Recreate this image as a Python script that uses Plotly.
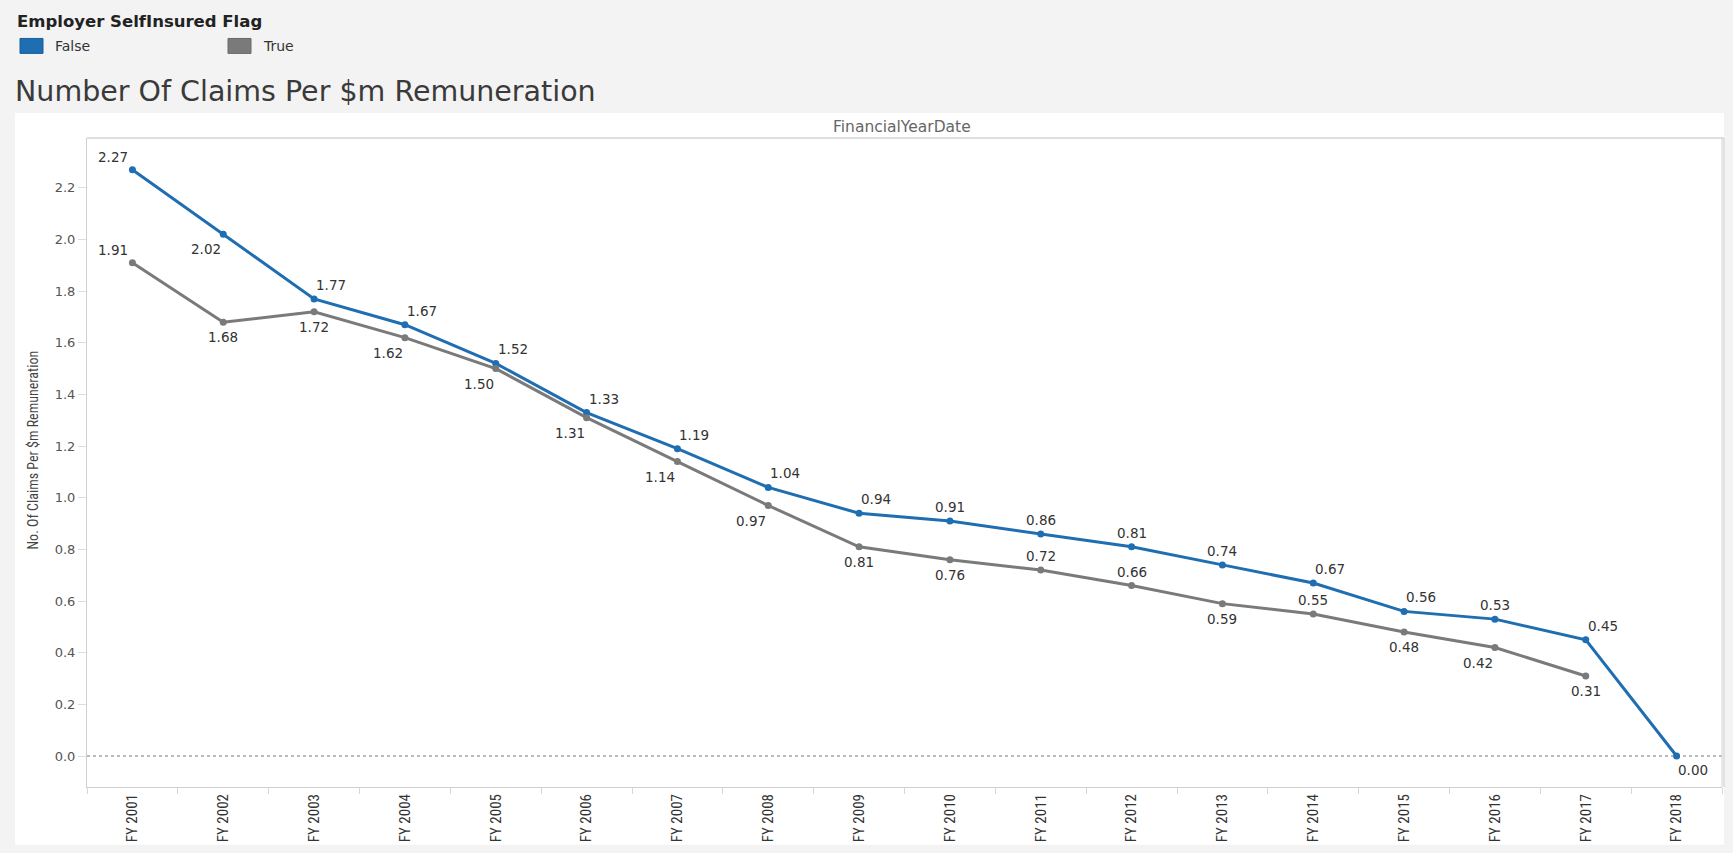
import plotly.graph_objects as go

# ---------------- data ----------------
years = ["FY 2001", "FY 2002", "FY 2003", "FY 2004", "FY 2005", "FY 2006", "FY 2007",
         "FY 2008", "FY 2009", "FY 2010", "FY 2011", "FY 2012", "FY 2013", "FY 2014",
         "FY 2015", "FY 2016", "FY 2017", "FY 2018"]
false_vals = [2.27, 2.02, 1.77, 1.67, 1.52, 1.33, 1.19, 1.04, 0.94, 0.91, 0.86, 0.81,
              0.74, 0.67, 0.56, 0.53, 0.45, 0.00]
true_vals = [1.91, 1.68, 1.72, 1.62, 1.50, 1.31, 1.14, 0.97, 0.81, 0.76, 0.72, 0.66,
             0.59, 0.55, 0.48, 0.42, 0.31, None]
y_ticks = [0.0, 0.2, 0.4, 0.6, 0.8, 1.0, 1.2, 1.4, 1.6, 1.8, 2.0, 2.2]

# ---------------- label placement (style) ----------------
false_pos = ["tl", "bl", "tr", "tr", "tr", "tr", "tr", "tr", "tr", "t", "t", "t", "t",
             "tr", "tr", "t", "tr", "br"]
true_pos = ["tl", "b", "b", "bl", "bl", "bl", "bl", "bl", "b", "b", "t", "t", "b", "t",
            "b", "bl", "b", None]
OFFS = {"t": (0, 14), "b": (0, -15), "tr": (17, 14), "tl": (-19, 13),
        "bl": (-17, -15), "br": (16, -14)}

BLUE = "#1f6eb1"
GRAY = "#7a7a7a"
FONT = "DejaVu Sans"
NARROW = "Liberation Sans Narrow, Roboto Condensed, Arial Narrow, sans-serif"

fig = go.Figure()
for name, vals, col in [("False", false_vals, BLUE), ("True", true_vals, GRAY)]:
    fig.add_trace(go.Scatter(
        x=years, y=vals, mode="lines+markers", name=name,
        line=dict(color=col, width=3), marker=dict(color=col, size=7),
        showlegend=False, connectgaps=False))

annotations = []
for vals, pos in [(false_vals, false_pos), (true_vals, true_pos)]:
    for yr, v, p in zip(years, vals, pos):
        if v is None or p is None:
            continue
        dx, dy = OFFS[p]
        annotations.append(dict(
            x=yr, y=v, xref="x", yref="y", text=f"{v:.2f}", showarrow=False,
            xshift=dx, yshift=dy, font=dict(family=FONT, size=13.5, color="#333333")))

# page-level geometry (pixels -> paper)
W, H = 1733, 853
L, R, T, B = 87, 11, 138, 63
PW, PH = W - L - R, H - T - B
def px(xp):
    return (xp - L) / PW
def py(yp):
    return (H - B - yp) / PH

# legend + titles
annotations += [
    dict(x=px(15), y=py(21), xref="paper", yref="paper", xanchor="left", yanchor="middle",
         text="<b>Employer SelfInsured Flag</b>", showarrow=False,
         font=dict(family=FONT, size=16.5, color="#222222")),
    dict(x=px(53), y=py(46), xref="paper", yref="paper", xanchor="left", yanchor="middle",
         text="False", showarrow=False, font=dict(family=FONT, size=14, color="#333333")),
    dict(x=px(261), y=py(46), xref="paper", yref="paper", xanchor="left", yanchor="middle",
         text="True", showarrow=False, font=dict(family=FONT, size=14, color="#333333")),
    dict(x=px(13), y=py(91), xref="paper", yref="paper", xanchor="left", yanchor="middle",
         text="Number Of Claims Per $m Remuneration", showarrow=False,
         font=dict(family=FONT, size=28.5, color="#3a3a3a")),
    dict(x=px(902), y=py(127), xref="paper", yref="paper", xanchor="center", yanchor="middle",
         text="FinancialYearDate", showarrow=False,
         font=dict(family=FONT, size=15.5, color="#666666")),
    dict(x=px(33), y=py(452), xref="paper", yref="paper", xanchor="center", yanchor="middle",
         text="No. Of Claims Per $m Remuneration", showarrow=False, textangle=-90,
         font=dict(family=NARROW, size=14, color="#444444")),
]

shapes = [
    # white panel
    dict(type="rect", xref="paper", yref="paper", x0=px(15), x1=px(1724), y0=py(848), y1=py(113),
         fillcolor="white", line=dict(width=0), layer="below"),
    # legend swatches
    dict(type="rect", xref="paper", yref="paper", x0=px(20), x1=px(43), y0=py(53), y1=py(38),
         fillcolor=BLUE, line=dict(color="#1a5d96", width=1)),
    dict(type="rect", xref="paper", yref="paper", x0=px(228), x1=px(251), y0=py(53), y1=py(38),
         fillcolor=GRAY, line=dict(color="#6a6a6a", width=1)),
    # header separator line
    dict(type="line", xref="paper", yref="paper", x0=0, x1=px(1724), y0=1, y1=1,
         line=dict(color="#d4d4d4", width=1.5)),
    # right double border
    dict(type="line", xref="paper", yref="paper", x0=1, x1=1, y0=0, y1=1,
         line=dict(color="#cfcfcf", width=1)),
    dict(type="line", xref="paper", yref="paper", x0=px(1724), x1=px(1724), y0=0, y1=1,
         line=dict(color="#dadada", width=1.5)),
    # zero reference line
    dict(type="line", xref="paper", yref="y", x0=0, x1=1, y0=0, y1=0,
         line=dict(color="#777777", width=1, dash="dot"), layer="below"),
]

fig.update_layout(
    width=W, height=H,
    margin=dict(l=L, r=R, t=T, b=B, pad=0),
    paper_bgcolor="#f3f3f3", plot_bgcolor="white",
    annotations=annotations, shapes=shapes,
    font=dict(family=FONT),
)
fig.update_xaxes(
    type="category", categoryorder="array", categoryarray=years,
    range=[-0.5, len(years) - 0.5],
    showgrid=False, zeroline=False, showline=True, linecolor="#cfcfcf", linewidth=1,
    ticks="outside", tickson="boundaries", ticklen=6, tickcolor="#d8d8d8",
    tickangle=-90, tickfont=dict(family=NARROW, size=15, color="#333333"),
)
fig.update_yaxes(
    range=[-0.12, 2.393], tickvals=y_ticks, tickformat=".1f",
    showgrid=False, zeroline=False, showline=True, linecolor="#cfcfcf", linewidth=1,
    ticks="outside", ticklen=8, tickcolor="#dddddd",
    tickfont=dict(family=FONT, size=13, color="#555555"),
)

fig.write_html("out.html")
